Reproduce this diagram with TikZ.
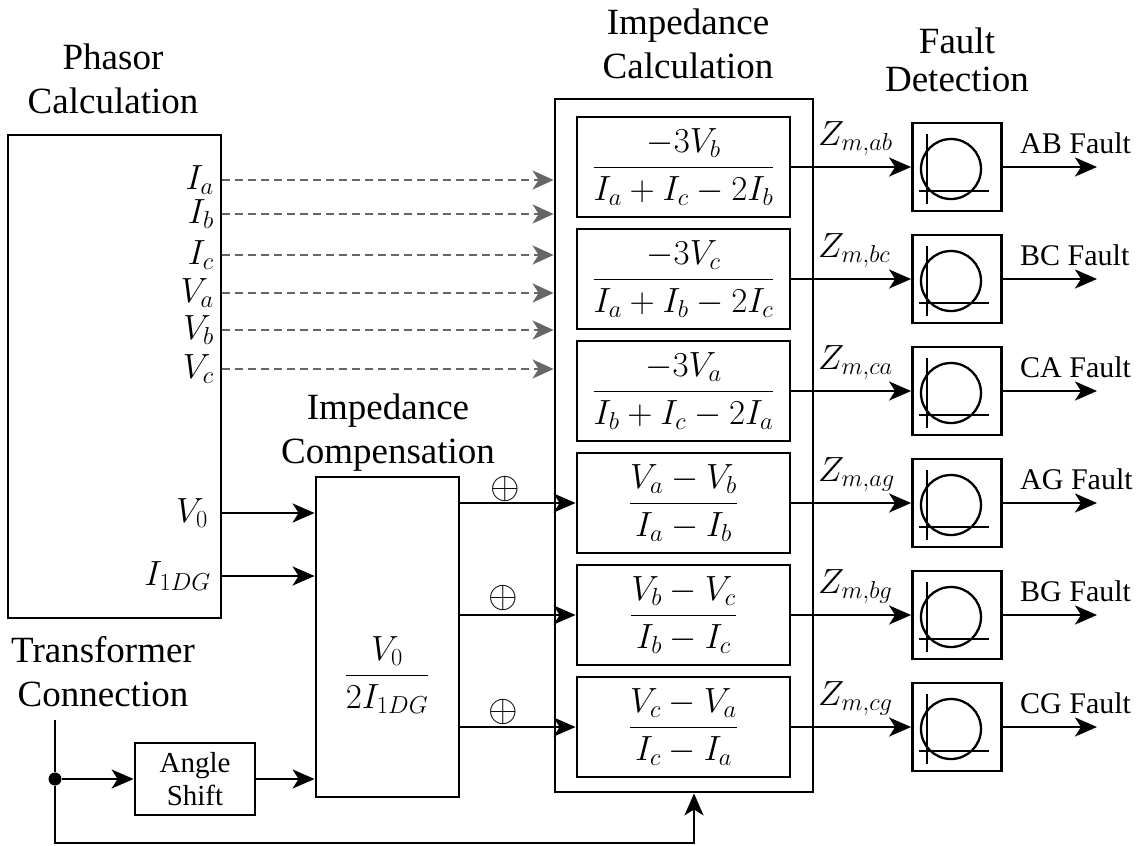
\RequirePackage{fix-cm}
\documentclass[tikz,border=0pt]{standalone}
\usepackage{amsmath}
\usepackage[no-math]{fontspec}
\setmainfont{Liberation Serif}
\newfontfamily\tnr{Liberation Serif}
\usetikzlibrary{arrows.meta}
\tikzset{
  box/.style={draw, line width=2.8pt, inner sep=0pt},
  ibox/.style={box, minimum width=213pt, minimum height=100pt, font=\fontsize{35}{42}\selectfont},
  fbox/.style={box, minimum width=89pt, minimum height=88pt},
  conn/.style={line width=2.4pt, -{Stealth[length=22pt,width=19pt,inset=6pt]}},
  dconn/.style={line width=2.5pt, draw=black!60, dash pattern=on 8pt off 5pt,
    -{Stealth[length=21pt,width=19pt,inset=6pt,fill=black!60]}},
  title/.style={font=\tnr\fontsize{37}{44}\selectfont, align=center, inner sep=0pt},
  mathlbl/.style={font=\fontsize{35}{42}\selectfont, inner sep=0pt},
  plus/.style={font=\fontsize{38}{42}\selectfont, inner sep=0pt},
  flabel/.style={font=\tnr\fontsize{30}{36}\selectfont, inner sep=0pt},
  icon/.style={line width=2.3pt},
}
\begin{document}
\begin{tikzpicture}[x=1pt,y=-1pt]
\useasboundingbox (0,0) rectangle (1141,846);

% titles
\node[title] (tphasor) at (113,79) {Phasor\\Calculation};
\node[title] (tcalc) at (688,44) {Impedance\\Calculation};
\node[title, font=\tnr\fontsize{37}{38}\selectfont] (tfault) at (957,60) {Fault\\Detection};
\node[title] (tcomp) at (388,433) {Impedance\\Compensation};
\node[title] (ttrans) at (103,672) {Transformer\\Connection};

% main boxes
\node[box, minimum width=213pt, minimum height=483pt] (phasor) at (114.5,376.5) {};
\node[box, minimum width=258pt, minimum height=693pt] (calc) at (684,445.5) {};
\node[box, minimum width=143pt, minimum height=320pt] (comp) at (387.5,637) {};
\node[mathlbl] (compf) at (387,675) {$\dfrac{V_0}{2I_{1DG}}$};
\node[box, minimum width=120pt, minimum height=72pt, align=center,
      font=\tnr\fontsize{29}{33}\selectfont] (angle) at (195,779) {Angle\\Shift};

% impedance calculation boxes
\node[ibox] (z1) at (683.5,167) {$\dfrac{-3V_b}{I_a+I_c-2I_b}$};
\node[ibox] (z2) at (683.5,279) {$\dfrac{-3V_c}{I_a+I_b-2I_c}$};
\node[ibox] (z3) at (683.5,391) {$\dfrac{-3V_a}{I_b+I_c-2I_a}$};
\node[ibox] (z4) at (683.5,503) {$\dfrac{V_a-V_b}{I_a-I_b}$};
\node[ibox] (z5) at (683.5,615) {$\dfrac{V_b-V_c}{I_b-I_c}$};
\node[ibox] (z6) at (683.5,727) {$\dfrac{V_c-V_a}{I_c-I_a}$};

% fault detection boxes
\node[fbox] (f1) at (957,167) {};
\node[fbox] (f2) at (957,279) {};
\node[fbox] (f3) at (957,391) {};
\node[fbox] (f4) at (957,503) {};
\node[fbox] (f5) at (957,615) {};
\node[fbox] (f6) at (957,727) {};
\foreach \i in {1,...,6} {
  \draw[icon] ([shift={(-6,2)}]f\i.center) circle[radius=30];
  \draw[icon] ([shift={(-30,-33)}]f\i.center) -- ([shift={(-30,37)}]f\i.center);
  \draw[icon] ([shift={(-38,24)}]f\i.center) -- ([shift={(32,24)}]f\i.center);
}

% phasor outputs
\node[mathlbl, anchor=east] (Ia) at (214,180) {$I_a$};
\node[mathlbl, anchor=east] (Ib) at (214,214) {$I_b$};
\node[mathlbl, anchor=east] (Ic) at (214,255) {$I_c$};
\node[mathlbl, anchor=east] (Va) at (214,293) {$V_a$};
\node[mathlbl, anchor=east] (Vb) at (214,330) {$V_b$};
\node[mathlbl, anchor=east] (Vc) at (214,369) {$V_c$};
\node[mathlbl, anchor=east] (V0) at (208,513) {$V_0$};
\node[mathlbl, anchor=east] (I1) at (211,576) {$I_{1DG}$};
\foreach \n in {Ia,Ib,Ic,Va,Vb,Vc}
  \draw[dconn] (phasor.east |- \n) -- (calc.west |- \n);
\draw[conn] (phasor.east |- V0) -- (comp.west |- V0);
\draw[conn] (phasor.east |- I1) -- (comp.west |- I1);

% compensation outputs
\node[plus] (p1) at (505,489) {$\oplus$};
\node[plus] (p2) at (503,598) {$\oplus$};
\node[plus] (p3) at (503,712) {$\oplus$};
\draw[conn] (comp.east |- z4) -- (z4.west);
\draw[conn] (comp.east |- z5) -- (z5.west);
\draw[conn] (comp.east |- z6) -- (z6.west);

% impedance to fault detection
\node[mathlbl, anchor=base west] (zl1) at (818,145) {$Z_{m,ab}$};
\node[mathlbl, anchor=base west] (zl2) at (818,257) {$Z_{m,bc}$};
\node[mathlbl, anchor=base west] (zl3) at (818,369) {$Z_{m,ca}$};
\node[mathlbl, anchor=base west] (zl4) at (818,481) {$Z_{m,ag}$};
\node[mathlbl, anchor=base west] (zl5) at (818,593) {$Z_{m,bg}$};
\node[mathlbl, anchor=base west] (zl6) at (818,705) {$Z_{m,cg}$};
\foreach \i in {1,...,6}
  \draw[conn] (z\i.east) -- (f\i.west);

% fault outputs
\node[flabel, anchor=base west] (fl1) at (1020,153) {AB Fault};
\node[flabel, anchor=base west] (fl2) at (1020,265) {BC Fault};
\node[flabel, anchor=base west] (fl3) at (1020,377) {CA Fault};
\node[flabel, anchor=base west] (fl4) at (1020,489) {AG Fault};
\node[flabel, anchor=base west] (fl5) at (1020,601) {BG Fault};
\node[flabel, anchor=base west] (fl6) at (1020,713) {CG Fault};
\foreach \i/\y in {1/167,2/279,3/391,4/503,5/615,6/727} {
  \coordinate (o\i) at (1097,\y);
  \draw[conn] (f\i.east) -- (o\i);
}

% transformer connection
\coordinate (t0) at (55,720);
\node[circle, fill, inner sep=0pt, minimum size=13pt] (dot) at (55,779) {};
\coordinate (tc) at (694,843);
\draw[line width=2.4pt] (t0) -- (dot);
\draw[conn] (dot) -- (angle.west);
\draw[conn] (dot) |- (tc) -- (tc |- calc.south);
\draw[conn] (angle.east) -- (comp.west |- angle);
\end{tikzpicture}
\end{document}
